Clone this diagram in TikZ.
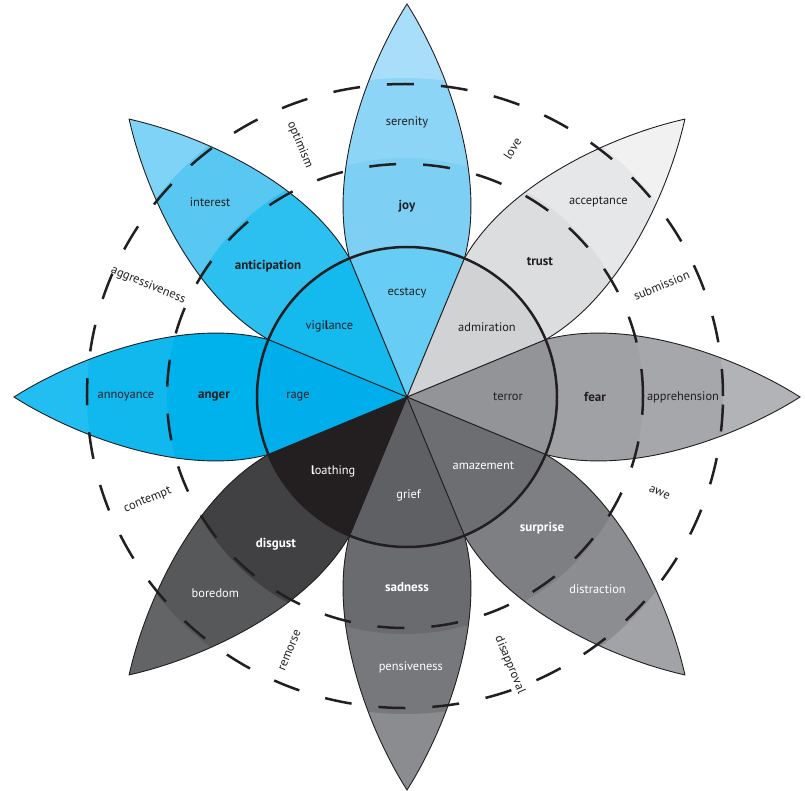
\documentclass[tikz,border=0pt]{standalone}
\usepackage{fontspec}
\setmainfont{PT Sans}
\definecolor{txt}{HTML}{231F20}
% joy
\definecolor{joyT}{HTML}{A9DEFA}\definecolor{joyO}{HTML}{8DD5F6}\definecolor{joyM}{HTML}{7DD0F4}\definecolor{joyI}{HTML}{67CDF5}
% trust
\definecolor{truT}{HTML}{F1F1F2}\definecolor{truO}{HTML}{E6E7E8}\definecolor{truM}{HTML}{DCDDDF}\definecolor{truI}{HTML}{D1D2D4}
% fear
\definecolor{feaT}{HTML}{B2B3B6}\definecolor{feaO}{HTML}{A6A7AA}\definecolor{feaM}{HTML}{A0A1A4}\definecolor{feaI}{HTML}{939498}
% surprise
\definecolor{surT}{HTML}{A2A3A6}\definecolor{surO}{HTML}{8C8D90}\definecolor{surM}{HTML}{7E7F82}\definecolor{surI}{HTML}{6D6E71}
% sadness
\definecolor{sadT}{HTML}{8B8C8F}\definecolor{sadO}{HTML}{77787B}\definecolor{sadM}{HTML}{6A6B6E}\definecolor{sadI}{HTML}{5F6063}
% disgust
\definecolor{disT}{HTML}{636466}\definecolor{disO}{HTML}{57585A}\definecolor{disM}{HTML}{414042}\definecolor{disI}{HTML}{231F20}
% anger
\definecolor{angT}{HTML}{22BEF1}\definecolor{angO}{HTML}{10B8EE}\definecolor{angM}{HTML}{00B2EC}\definecolor{angI}{HTML}{00AEEB}
% anticipation
\definecolor{antT}{HTML}{7FD3F6}\definecolor{antO}{HTML}{58C8F2}\definecolor{antM}{HTML}{2CC0F0}\definecolor{antI}{HTML}{14BAEE}
\tikzset{
  petalshape/.style={insert path={(0,0) -- (138.6,57.4) .. controls (222,80) and (330,40) .. (393,0) .. controls (330,-40) and (222,-80) .. (138.6,-57.4) -- cycle}},
  petalline/.style={draw=txt, line width=0.9pt},
  radline/.style={draw=txt, line width=1pt},
  ringline/.style={draw=txt, line width=2.5pt},
  dashring/.style={draw=txt, line width=2.5pt, dash pattern=on 27pt off 27pt},
  lbl/.style={font=\fontsize{12.4}{14}\selectfont, text=txt, inner sep=0pt},
  blbl/.style={font=\fontsize{13}{15}\selectfont\bfseries, text=txt, inner sep=0pt},
}
\begin{document}
\begin{tikzpicture}[x=1pt,y=1pt]
\useasboundingbox (-407,-393) rectangle (398,397);
\coordinate (dc) at (-2,1);
\coordinate (o) at (0,0);
% petals with bands
\foreach \a/\ct/\co/\cm in {90/joyT/joyO/joyM, 45/truT/truO/truM, 0/feaT/feaO/feaM, -45/surT/surO/surM, -90/sadT/sadO/sadM, -135/disT/disO/disM, 180/angT/angO/angM, 135/antT/antO/antM}{
  \begin{scope}[rotate=\a]
    \begin{scope}
      \clip[petalshape];
      \fill[\ct] (o) circle (420);
      \fill[\co] (dc) ellipse [x radius=318, y radius=312];
      \fill[\cm] (dc) ellipse [x radius=238, y radius=232];
    \end{scope}
    \path[petalline] (138.6,57.4) .. controls (222,80) and (330,40) .. (393,0) .. controls (330,-40) and (222,-80) .. (138.6,-57.4);
  \end{scope}
}
% inner wedges
\foreach \a/\ci in {90/joyI, 45/truI, 0/feaI, -45/surI, -90/sadI, -135/disI, 180/angI, 135/antI}{
  \fill[\ci] (o) -- (\a-22.5:150) arc[start angle=\a-22.5, end angle=\a+22.5, radius=150] -- cycle;
}
\foreach \a in {22.5,67.5,...,337.5}{
  \path[radline] (o) -- (\a:150);
}
\path[ringline] (o) circle (150);
% dashed rings
\path[dashring] (dc) ellipse [x radius=238, y radius=232];
\path[dashring] (dc) ellipse [x radius=318, y radius=312];
% petal labels
\node[lbl] (serenity) at (90:275) {serenity};
\node[blbl] (joy) at (90:191) {joy};
\node[lbl] (ecstacy) at (90:104) {ecstacy};
\node[lbl] (acceptance) at (45.5:273) {acceptance};
\node[blbl] (trust) at (45.6:190) {trust};
\node[lbl] (admiration) at (41:106) {admiration};
\node[lbl] (apprehension) at (0:276) {apprehension};
\node[blbl] (fear) at (0:188) {fear};
\node[lbl] (terror) at (0:101) {terror};
\node[lbl, text=white] (distraction) at (-45.3:271) {distraction};
\node[blbl, text=white] (surprise) at (-44.1:188) {surprise};
\node[lbl, text=white] (amazement) at (-42.2:103) {amazement};
\node[lbl, text=white] (pensiveness) at (-89.2:270) {pensiveness};
\node[blbl, text=white] (sadness) at (-90:190) {sadness};
\node[lbl, text=white] (grief) at (-89:98) {grief};
\node[lbl, text=white] (boredom) at (-134.4:274) {boredom};
\node[blbl, text=white] (disgust) at (-131.7:197) {disgust};
\node[lbl, text=white] (loathing) at (-134.6:105) {{\bfseries l}oathing};
\node[lbl] (annoyance) at (180:281) {annoyance};
\node[blbl] (anger) at (180:193) {anger};
\node[lbl] (rage) at (180:109) {rage};
\node[lbl] (interest) at (135.3:277) {interest};
\node[blbl] (anticipation) at (136.7:191) {anticipation};
\node[lbl] (vigilance) at (137.7:105) {vigi{\bfseries l}ance};
% dyad labels
\node[lbl, rotate=-67.5] (optimism) at (113:274) {optimism};
\node[lbl, rotate=57] (love) at (67:270) {love};
\node[lbl, rotate=22.5] (submission) at (23.7:278) {submission};
\node[lbl, rotate=-22.5] (awe) at (-20.8:270) {awe};
\node[lbl, rotate=-67.5] (disapproval) at (-69:287) {disapproval};
\node[lbl, rotate=67.5] (remorse) at (-114.8:279) {remorse};
\node[lbl, rotate=22.5] (contempt) at (-158.3:279) {contempt};
\node[lbl, rotate=-22.5] (aggressiveness) at (156.6:282) {aggressiveness};
\end{tikzpicture}
\end{document}
